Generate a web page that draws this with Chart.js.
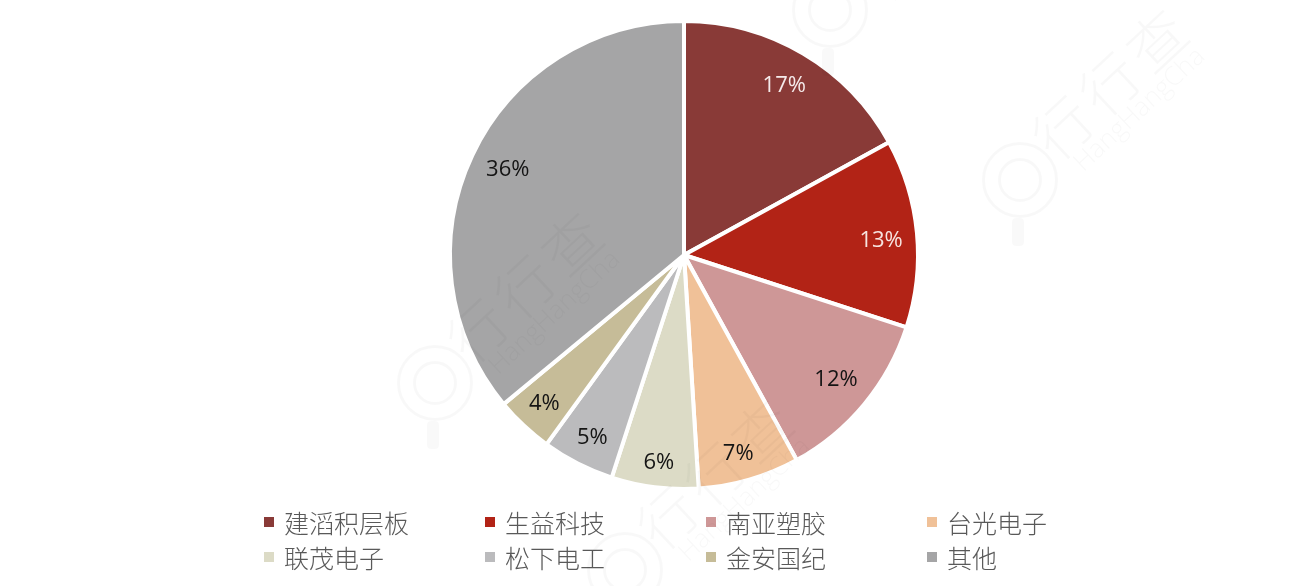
<!DOCTYPE html>
<html>
<head>
<meta charset="utf-8">
<script src="https://cdn.jsdelivr.net/npm/chart.js@4"></script>
<style>
  html, body { margin: 0; padding: 0; background: #fff; }
  #wrap { position: relative; width: 1298px; height: 586px; overflow: hidden; }
  #legend { position: absolute; left: 264px; top: 504px; display: grid; grid-template-columns: repeat(4, 221px); grid-auto-rows: 35px;
    font-family: "Noto Sans CJK SC", sans-serif; font-weight: 300; font-size: 25px; color: #595959; }
  #legend div { display: flex; align-items: center; white-space: nowrap; }
  #legend i { display: block; width: 10px; height: 10px; margin-right: 10px; }
  .wm { position: absolute; left: 0; top: 0; width: 0; height: 0; color: rgba(0, 0, 0, 0.028); pointer-events: none; }
  .wm span { position: absolute; white-space: nowrap; transform: translate(-50%, -50%) rotate(-43deg); }
  .wm .cn { left: 1110px; top: 80px; font: 300 58px "Noto Sans CJK SC", sans-serif; letter-spacing: 6px; }
  .wm .en { left: 1138px; top: 108px; font: 300 26px "Open Sans", sans-serif; }
  .wm b { position: absolute; display: block; box-sizing: border-box; border-radius: 50%; border: 3px solid rgba(0, 0, 0, 0.028); }
  .wm .ring1 { left: 982px; top: 142px; width: 76px; height: 76px; }
  .wm .ring2 { left: 998px; top: 158px; width: 44px; height: 44px; }
  .wm .stem { left: 1012px; top: 218px; width: 12px; height: 28px; border: 0; border-radius: 4px; background: rgba(0, 0, 0, 0.022); }
</style>
</head>
<body>
<div id="wrap">
  <canvas id="pie" width="1298" height="586"></canvas>
  <div id="legend"></div>
</div>
<script>
const categories = ['建滔积层板', '生益科技', '南亚塑胶', '台光电子', '联茂电子', '松下电工', '金安国纪', '其他'];
const shares = [17, 13, 12, 7, 6, 5, 4, 36];
const colors = ['#893A37', '#B22316', '#CE9797', '#F0C198', '#DCDBC6', '#BBBBBD', '#C6BC98', '#A5A5A6'];
const labelColors = ['#f5eaea', '#f7e4e0', '#141414', '#141414', '#141414', '#141414', '#141414', '#141414'];
const labelRadius = [197, 197, 196, 205, 209, 204, 204, 197];
const labelNudgeX = [0, 1, 1, -3, 1, 1, 0, 2];
const labelNudgeY = [0, 4, 0, 2, 0, 1, 0, -1];
const watermarkShifts = [[0, 0], [-585, 203], [-190, -170], [-395, 390]];

// percent labels, no datalabels plugin in the sandbox
const sliceLabels = {
  id: 'sliceLabels',
  afterDatasetsDraw(chart) {
    const { ctx } = chart;
    ctx.save();
    ctx.font = '22px "Open Sans", sans-serif';
    ctx.textAlign = 'center';
    ctx.textBaseline = 'middle';
    chart.getDatasetMeta(0).data.forEach((arc, i) => {
      const mid = (arc.startAngle + arc.endAngle) / 2;
      ctx.fillStyle = labelColors[i];
      ctx.fillText(
        shares[i] + '%',
        arc.x + Math.cos(mid) * labelRadius[i] + labelNudgeX[i],
        arc.y + Math.sin(mid) * labelRadius[i] + labelNudgeY[i]
      );
    });
    ctx.restore();
  },
};

new Chart(document.getElementById('pie'), {
  type: 'pie',
  data: {
    labels: categories,
    datasets: [{ data: shares, backgroundColor: colors, borderColor: '#fff', borderWidth: 4, hoverOffset: 0 }],
  },
  options: {
    responsive: false,
    animation: false,
    layout: { padding: { top: 19, bottom: 95, left: 70, right: 0 } },
    plugins: { legend: { display: false }, tooltip: { enabled: false } },
  },
  plugins: [sliceLabels],
});

const legend = document.getElementById('legend');
categories.forEach((name, i) => {
  const item = document.createElement('div');
  const box = document.createElement('i');
  box.style.background = colors[i];
  item.appendChild(box);
  item.appendChild(document.createTextNode(name));
  legend.appendChild(item);
});

// faint site watermark laid over the chart
const wrap = document.getElementById('wrap');
watermarkShifts.forEach(([dx, dy]) => {
  const wm = document.createElement('div');
  wm.className = 'wm';
  wm.style.transform = `translate(${dx}px, ${dy}px)`;
  wm.innerHTML = '<b class="ring1"></b><b class="ring2"></b><b class="stem"></b>' +
    '<span class="cn">行行查</span><span class="en">HangHangCha</span>';
  wrap.appendChild(wm);
});
</script>
</body>
</html>
